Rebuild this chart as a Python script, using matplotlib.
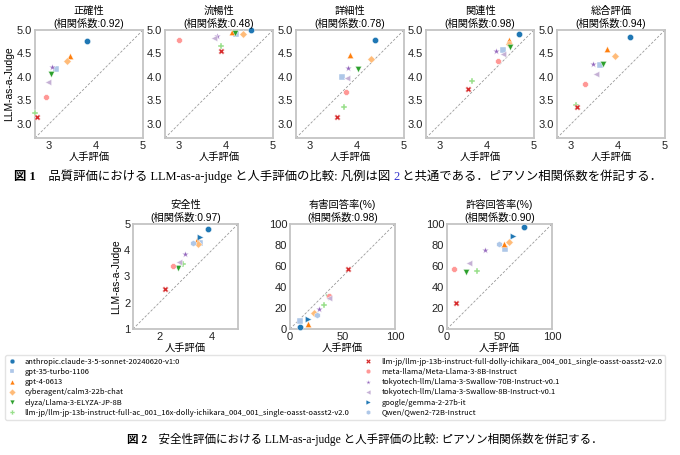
import matplotlib
matplotlib.use("Agg")
import matplotlib.pyplot as plt
from matplotlib.lines import Line2D

plt.rcParams['font.family'] = ['Liberation Sans', 'Noto Sans CJK JP', 'DejaVu Sans']

models = [
    "anthropic.claude-3-5-sonnet-20240620-v1:0",
    "gpt-35-turbo-1106",
    "gpt-4-0613",
    "cyberagent/calm3-22b-chat",
    "elyza/Llama-3-ELYZA-JP-8B",
    "llm-jp/llm-jp-13b-instruct-full-ac_001_16x-dolly-ichikara_004_001_single-oasst-oasst2-v2.0",
    "llm-jp/llm-jp-13b-instruct-full-dolly-ichikara_004_001_single-oasst-oasst2-v2.0",
    "meta-llama/Meta-Llama-3-8B-Instruct",
    "tokyotech-llm/Llama-3-Swallow-70B-Instruct-v0.1",
    "tokyotech-llm/Llama-3-Swallow-8B-Instruct-v0.1",
    "google/gemma-2-27b-it",
    "Qwen/Qwen2-72B-Instruct",
]

# quality metrics (first 10 models)
q_titles = ["正確性", "流暢性", "詳細性", "関連性", "総合評価"]
q_corr = ["0.92", "0.48", "0.78", "0.98", "0.94"]
acc_h = [3.81, 3.14, 3.44, 3.38, 3.04, 2.70, 2.75, 2.93, 3.06, 2.98]
acc_l = [4.76, 4.17, 4.44, 4.33, 4.06, 3.23, 3.14, 3.57, 4.21, 3.89]
flu_h = [4.54, 4.22, 4.13, 4.37, 4.19, 3.89, 3.89, 3.00, 3.80, 3.74]
flu_l = [4.99, 4.92, 4.95, 4.92, 4.93, 4.66, 4.55, 4.79, 4.88, 4.83]
det_h = [4.39, 3.68, 3.84, 4.30, 4.01, 3.73, 3.57, 3.77, 3.80, 3.79]
det_l = [4.79, 4.00, 4.46, 4.39, 4.16, 3.35, 3.15, 3.68, 4.20, 3.98]
rel_h = [4.69, 4.34, 4.46, 4.46, 4.48, 3.69, 3.59, 4.24, 4.19, 4.34]
rel_l = [4.92, 4.58, 4.78, 4.70, 4.63, 3.91, 3.74, 4.35, 4.56, 4.49]
tot_h = [4.25, 3.61, 3.76, 3.93, 3.69, 3.11, 3.12, 3.29, 3.47, 3.52]
tot_l = [4.86, 4.25, 4.59, 4.44, 4.28, 3.41, 3.37, 3.85, 4.28, 4.07]

# safety metrics (12 models)
s_titles = ["安全性", "有害回答率(%)", "許容回答率(%)"]
s_corr = ["0.97", "0.98", "0.90"]
saf_h = [3.85, 3.57, 3.42, 3.48, 2.70, 2.92, 2.20, 2.53, 3.00, 2.75, 3.56, 3.28]
saf_l = [4.81, 4.27, 4.38, 4.24, 3.34, 3.46, 2.51, 3.39, 3.87, 3.54, 4.49, 4.27]
harm_h = [9.5, 9.5, 17.4, 23.1, 36.5, 32.0, 55.7, 37.3, 27.8, 37.3, 16.8, 25.3]
harm_l = [1.9, 7.3, 5.1, 14.9, 30.5, 23.1, 57.0, 31.6, 19.3, 30.0, 9.8, 13.6]
perm_h = [73.7, 55.1, 54.7, 59.2, 17.7, 28.5, 8.2, 7.0, 35.8, 20.9, 63.3, 49.7]
perm_l = [97.5, 76.3, 80.7, 82.9, 54.4, 55.1, 24.4, 57.6, 75.0, 63.0, 88.9, 80.7]

q_ticks = [3, 4, 5]
q_yticks = [3.0, 3.5, 4.0, 4.5, 5.0]

# styles
colors = ["#1f77b4", "#aec7e8", "#ff7f0e", "#ffbb78", "#2ca02c", "#98df8a",
          "#d62728", "#ff9896", "#9467bd", "#c5b0d5", "#1f77b4", "#aec7e8"]
markers = ["o", "s", "^", "D", "v", "P", "X", "8", "*", "<", ">", "h"]
sizes = [20, 18, 20, 15, 20, 20, 18, 19, 26, 20, 20, 20]

W, H = 680, 455
fig = plt.figure(figsize=(W / 100, H / 100), dpi=100)
SPINE = "#c4c4c4"
FS = 7.4


def style_axes(ax, lim, ticks, yticks, title, corr, ylabel):
    ax.set_xlim(lim)
    ax.set_ylim(lim)
    ax.plot(lim, lim, ls=(0, (3, 2)), color="#999999", lw=0.6, zorder=1)
    ax.set_xticks(ticks)
    ax.set_yticks(yticks)
    ax.tick_params(length=0, labelsize=8, pad=2, colors="#222222")
    for s in ax.spines.values():
        s.set_color(SPINE)
        s.set_linewidth(1.3)
    ax.set_title(f"{title}\n(相関係数:{corr})", fontsize=FS, pad=2.5, linespacing=1.15)
    ax.set_xlabel("人手評価", fontsize=FS, labelpad=1)
    if ylabel:
        ax.set_ylabel("LLM-as-a-Judge", fontsize=FS, labelpad=2)


def axrect(left, top, w, h):
    return [left / W, 1 - (top + h) / H, w / W, h / H]


q_data = [(acc_h, acc_l), (flu_h, flu_l), (det_h, det_l), (rel_h, rel_l), (tot_h, tot_l)]
q_lefts = [35, 165, 296, 426, 557]
for i, (hx, ly) in enumerate(q_data):
    ax = fig.add_axes(axrect(q_lefts[i], 30, 108, 108))
    for j in range(len(hx)):
        ax.scatter(hx[j], ly[j], marker=markers[j], color=colors[j], s=sizes[j],
                   edgecolors="white", linewidths=0.3, zorder=3, clip_on=False)
    style_axes(ax, (2.7, 5), q_ticks, q_yticks, q_titles[i], q_corr[i], i == 0)

s_data = [(saf_h, saf_l), (harm_h, harm_l), (perm_h, perm_l)]
s_lims = [(1, 5), (0, 100), (0, 100)]
s_xt = [[2, 4], [0, 50, 100], [0, 50, 100]]
s_yt = [[1, 2, 3, 4, 5], [0, 20, 40, 60, 80, 100], [0, 20, 40, 60, 80, 100]]
s_lefts = [133, 290, 447]
for i, (hx, ly) in enumerate(s_data):
    ax = fig.add_axes(axrect(s_lefts[i], 224, 105, 105))
    for j in range(len(hx)):
        ax.scatter(hx[j], ly[j], marker=markers[j], color=colors[j], s=sizes[j],
                   edgecolors="white", linewidths=0.3, zorder=3, clip_on=False)
    style_axes(ax, s_lims[i], s_xt[i], s_yt[i], s_titles[i], s_corr[i], i == 0)

handles = [Line2D([], [], ls="none", marker=markers[j], color=colors[j],
                  markersize=3.4, markeredgecolor="white", markeredgewidth=0.2)
           for j in range(len(models))]
fig.legend(handles, models, ncol=2, loc="upper left",
           bbox_to_anchor=(5 / W, 1 - 355 / H),
           prop={"family": ["Noto Sans CJK JP"], "size": 5.45},
           frameon=True, edgecolor="#dddddd", fancybox=True,
           labelspacing=0.28, columnspacing=2.0, handlelength=1.0,
           handletextpad=1.2, borderpad=0.4, borderaxespad=0)

# captions (rainbow text)
cap_ax = fig.add_axes([0, 0, 1, 1])
cap_ax.set_axis_off()
cap_ax.set_xlim(0, W)
cap_ax.set_ylim(H, 0)
SERIF = ["Liberation Serif", "Noto Sans CJK JP"]


def rainbow(x, y, parts, size):
    t = cap_ax.text(x, y, parts[0][0], fontsize=size, family=SERIF,
                    fontweight=parts[0][1], color=parts[0][2], va="center", ha="left")
    for txt, wt, col in parts[1:]:
        t = cap_ax.annotate(txt, xycoords=t, xy=(1, 0), va="bottom", ha="left",
                            fontsize=size, family=SERIF, fontweight=wt, color=col)
    return t


rainbow(14, 177, [("図 1", "bold", "black"),
                  ("　品質評価における LLM-as-a-judge と人手評価の比較: 凡例は図 ", "normal", "black"),
                  ("2", "normal", "#3333cc"),
                  (" と共通である．ピアソン相関係数を併記する．", "normal", "black")], 8.9)
rainbow(127, 440, [("図 2", "bold", "black"),
                   ("　安全性評価における LLM-as-a-judge と人手評価の比較: ピアソン相関係数を併記する．", "normal", "black")], 8.3)

fig.savefig("out.png", dpi=100, facecolor="white")
